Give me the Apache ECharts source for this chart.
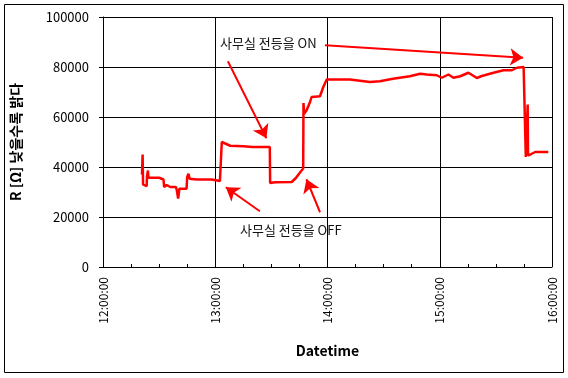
<!DOCTYPE html>
<html>
<head>
<meta charset="utf-8">
<script src="https://cdn.jsdelivr.net/npm/echarts@6/dist/echarts.min.js"></script>
<style>
  html, body { margin: 0; padding: 0; background: #fff; }
  #chart { width: 568px; height: 378px; }
</style>
</head>
<body>
<div id="chart"></div>
<script>
var times = [
  '12:20:50','12:21:10','12:21:25','12:21:40','12:23:20','12:23:30','12:24:00','12:24:20',
  '12:27:00','12:28:00','12:30:00','12:32:20','12:32:40','12:34:00','12:36:00','12:39:00',
  '12:39:30','12:40:10','12:40:50','12:44:40','12:45:00','12:45:40','12:46:20','12:50:00',
  '12:58:00','12:58:30','13:02:30','13:03:10','13:03:30','13:05:00','13:08:00','13:15:00',
  '13:20:00','13:29:10','13:29:20','13:32:00','13:40:50','13:43:00','13:45:00','13:47:00',
  '13:47:10','13:47:30','13:48:50','13:50:40','13:51:30','13:56:00','13:57:45','13:59:35',
  '14:12:00','14:22:40','14:28:00','14:35:00','14:44:00','14:49:30','14:53:00','14:58:25',
  '15:01:05','15:04:40','15:07:20','15:10:55','15:15:20','15:19:50','15:22:30','15:28:45',
  '15:34:05','15:38:35','15:41:15','15:44:50','15:45:40','15:46:00','15:46:50','15:47:00',
  '15:47:10','15:48:25','15:51:00','15:58:00'
];
var values = [
  37000, 45000, 33000, 32300, 32300, 36000, 38600, 35700,
  35700, 35300, 35700, 35000, 32000, 32800, 32000, 32000,
  30500, 27400, 31300, 31300, 36000, 37300, 35300, 35000,
  35000, 34400, 34400, 34700, 50000, 49500, 48500, 48300,
  48000, 48000, 33600, 33900, 34000, 35500, 37500, 39400,
  65600, 61300, 62700, 66000, 68000, 68300, 72000, 75000,
  75000, 74000, 74300, 75300, 76300, 77300, 77000, 76700,
  75700, 77000, 75700, 76300, 77700, 75600, 76400, 77700,
  78700, 78700, 79700, 80000, 80700, 44000, 44000, 65000,
  44700, 45000, 46000, 46000
];
var yTicks = [0, 20000, 40000, 60000, 80000, 100000];
var xStart = '12:00:00';
var xEnd = '16:00:00';

// annotation arrows [from time, from value, to time, to value]
var arrows = [
  ['13:58:40', 88700, '15:44:35', 83700],
  ['13:06:45', 82300, '13:27:20', 51500],
  ['13:23:50', 22300, '13:05:40', 31900],
  ['13:56:00', 21900, '13:48:45', 35100]
];
var labelOn = '사무실 전등을 ON';
var labelOff = '사무실 전등을 OFF';

function toSec(s) {
  var p = s.split(':');
  return (+p[0]) * 3600 + (+p[1]) * 60 + (+p[2]);
}
function pad(n) { return n < 10 ? '0' + n : '' + n; }
function fmt(sec) {
  var h = Math.floor(sec / 3600), m = Math.floor(sec % 3600 / 60), s = sec % 60;
  return pad(h) + ':' + pad(m) + ':' + pad(s);
}

var data = [];
for (var i = 0; i < times.length; i++) {
  data.push([toSec(times[i]), values[i]]);
}
var arrowData = arrows.map(function (a) {
  return [{ coord: [toSec(a[0]), a[1]] }, { coord: [toSec(a[2]), a[3]] }];
});

var chart = echarts.init(document.getElementById('chart'));
var font = '"Noto Sans CJK KR", "DejaVu Sans", sans-serif';

var option = {
  animation: false,
  backgroundColor: '#fff',
  grid: { left: 103, right: 16, top: 17, bottom: 111 },
  xAxis: {
    type: 'value',
    min: toSec(xStart),
    max: toSec(xEnd),
    interval: 3600,
    name: 'Datetime',
    nameLocation: 'middle',
    nameGap: 77,
    nameTextStyle: { fontFamily: font, fontSize: 14, fontWeight: 'bold', color: '#000' },
    axisLine: { show: true, onZero: false, lineStyle: { color: '#000', width: 1 } },
    axisTick: { show: true, inside: true, length: 3, lineStyle: { color: '#000' } },
    minorTick: { show: true, splitNumber: 4, length: 3, lineStyle: { color: '#000' } },
    axisLabel: {
      rotate: 90, margin: 10, color: '#000', fontFamily: font, fontSize: 12,
      formatter: function (v) { return fmt(v); }
    },
    splitLine: { show: true, lineStyle: { color: '#000', width: 1 } }
  },
  yAxis: {
    type: 'value',
    min: yTicks[0],
    max: yTicks[yTicks.length - 1],
    interval: 20000,
    name: 'R [Ω] 낮을수록 밝다',
    nameLocation: 'middle',
    nameGap: 80,
    nameRotate: 90,
    nameTextStyle: { fontFamily: font, fontSize: 14, fontWeight: 'bold', color: '#000' },
    axisLine: { show: true, lineStyle: { color: '#000', width: 1 } },
    axisTick: { show: true, length: 4, lineStyle: { color: '#000' } },
    axisLabel: {
      margin: 14, color: '#000', fontFamily: font, fontSize: 13,
      formatter: function (v) { return String(v); }
    },
    splitLine: { show: true, lineStyle: { color: '#000', width: 1 } }
  },
  series: [
    {
      type: 'line',
      data: data,
      showSymbol: false,
      lineStyle: { color: '#ff0000', width: 2.5 },
      itemStyle: { color: '#ff0000' },
      markLine: {
        silent: true,
        symbol: ['none', 'arrow'],
        symbolSize: 13,
        label: { show: false },
        lineStyle: { color: '#ff0000', width: 2, type: 'solid' },
        data: arrowData
      }
    }
  ],
  graphic: [
    {
      type: 'rect',
      shape: { x: 4.5, y: 4.5, width: 559, height: 368 },
      style: { fill: 'none', stroke: '#000', lineWidth: 1 }
    },
    {
      type: 'text', left: 220, top: 37,
      style: { text: labelOn, fontFamily: font, fontSize: 13, fill: '#111' }
    },
    {
      type: 'text', left: 240, top: 224,
      style: { text: labelOff, fontFamily: font, fontSize: 13, fill: '#111' }
    }
  ]
};
chart.setOption(option);
</script>
</body>
</html>
